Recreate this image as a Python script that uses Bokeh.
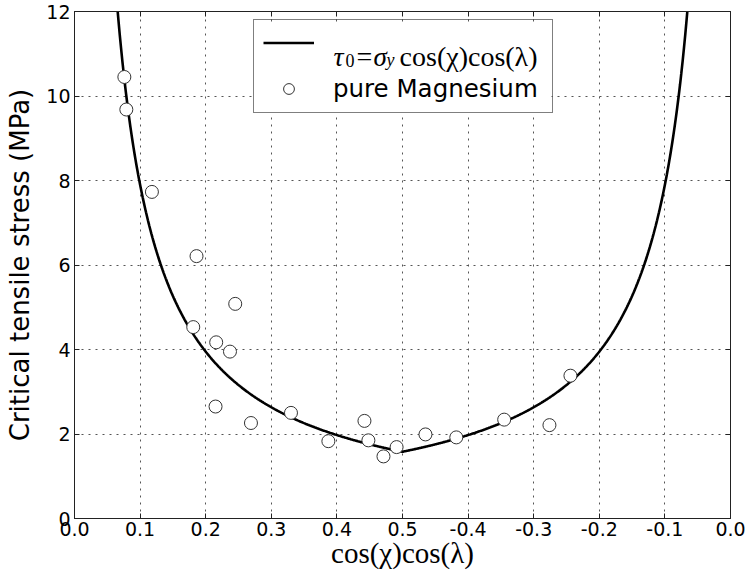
import numpy as np
from bokeh.plotting import figure
from bokeh.models import (Range1d, FixedTicker, LinearAxis, Legend, LegendItem, Label)
from bokeh.embed import file_html
from bokeh.resources import INLINE

# ---------------- data ----------------
schmid_pos = [0.076, 0.079, 0.118, 0.186, 0.245, 0.181, 0.216, 0.237, 0.215, 0.269, 0.330,
              0.387, 0.442, 0.448, 0.471, 0.491, 0.535, 0.582, 0.655, 0.724, 0.756]
stress_mpa = [10.45, 9.68, 7.73, 6.21, 5.08, 4.53, 4.17, 3.95, 2.65, 2.26, 2.50,
              1.83, 2.31, 1.85, 1.47, 1.69, 1.99, 1.92, 2.34, 2.21, 3.38]
x_ticks = [0.0, 0.1, 0.2, 0.3, 0.4, 0.5, 0.6, 0.7, 0.8, 0.9, 1.0]
x_tick_labels = ["0.0", "0.1", "0.2", "0.3", "0.4", "0.5", "-0.4", "-0.3", "-0.2", "-0.1", "0.0"]
y_ticks = [0, 2, 4, 6, 8, 10, 12]
y_tick_labels = ["0", "2", "4", "6", "8", "10", "12"]
TAU_C = 0.79  # critical resolved shear stress (MPa) of the model curve

# model curve: tau = TAU_C / |cos(chi)cos(lambda)|
s = np.linspace(0.06, 0.94, 881)
m = np.where(s <= 0.5, s, 1.0 - s)
tau = TAU_C / m

FONT = "DejaVu Sans"
SERIF = "Liberation Serif"

W, H = 748, 575
BL, BR, BT, BB = 74, 18, 11, 57

p = figure(width=W, height=H, x_range=Range1d(0, 1), y_range=Range1d(0, 12),
           output_backend="svg", toolbar_location=None,
           min_border_left=BL, min_border_right=BR, min_border_top=BT, min_border_bottom=BB)
p.outline_line_color = "#222222"
p.outline_line_width = 1
p.background_fill_color = "white"
p.border_fill_color = "white"

xt = FixedTicker(ticks=x_ticks, minor_ticks=[])
yt = FixedTicker(ticks=y_ticks, minor_ticks=[])

for ax in (p.xaxis[0], p.yaxis[0]):
    ax.major_tick_in = 5
    ax.major_tick_out = 0
    ax.minor_tick_in = 0
    ax.minor_tick_out = 0
    ax.axis_line_color = "#222222"
    ax.major_tick_line_color = "#222222"
    ax.major_label_text_font = FONT
    ax.major_label_text_font_size = "19px"
    ax.major_label_text_color = "black"
    ax.axis_label_text_font_style = "normal"
    ax.axis_label_text_color = "black"

p.xaxis[0].ticker = xt
p.xaxis[0].major_label_overrides = {t: l for t, l in zip(x_ticks, x_tick_labels)}
p.xaxis[0].major_label_standoff = 3
p.xaxis[0].axis_label = "cos(χ)cos(λ)"
p.xaxis[0].axis_label_text_font = SERIF
p.xaxis[0].axis_label_text_font_size = "29px"
p.xaxis[0].axis_label_standoff = -2

p.yaxis[0].ticker = yt
p.yaxis[0].major_label_overrides = {t: l for t, l in zip(y_ticks, y_tick_labels)}
p.yaxis[0].major_label_standoff = 4
p.yaxis[0].axis_label = "Critical tensile stress (MPa)"
p.yaxis[0].axis_label_text_font = FONT
p.yaxis[0].axis_label_text_font_size = "26px"
p.yaxis[0].axis_label_standoff = 8

# inner ticks on top and right (no labels)
for loc, tk in (("above", xt), ("right", yt)):
    ax = LinearAxis(ticker=tk, major_tick_in=5, major_tick_out=0, minor_tick_in=0, minor_tick_out=0,
                    major_label_text_font_size="1px", major_label_text_color=None,
                    major_label_standoff=0,
                    axis_line_color="#222222", major_tick_line_color="#222222")
    p.add_layout(ax, loc)

p.xgrid.ticker = xt
p.ygrid.ticker = yt
for g in (p.xgrid[0], p.ygrid[0]):
    g.grid_line_color = "#555555"
    g.grid_line_dash = "2 5"
    g.grid_line_width = 1

frame_w = W - BL - BR
frame_h = H - BT - BB


def to_data(px, py):
    """page pixel -> data coordinates (for legend decoration only)"""
    return (px - BL) / frame_w * 1.0, (H - BB - py) / frame_h * 12.0


# white legend background (hides the grid under the legend box)
lx0, ly0 = to_data(253, 113)
lx1, ly1 = to_data(551, 23)
p.quad(left=[lx0], right=[lx1], bottom=[ly0], top=[ly1], fill_color="white", line_color=None)

curve = p.line(s, tau, line_color="black", line_width=2.6)
pts = p.scatter(schmid_pos, stress_mpa, marker="circle", size=13,
                fill_color="white", line_color="#333333", line_width=1)

legend = Legend(items=[LegendItem(label=" ", renderers=[curve]),
                       LegendItem(label="pure Magnesium", renderers=[pts])],
                location=(179, 405), padding=9, spacing=18, margin=0,
                glyph_width=51, glyph_height=27, label_height=27, label_width=210,
                label_standoff=19, border_line_color="black", border_line_width=1,
                background_fill_alpha=0,
                label_text_font=FONT, label_text_font_size="24.5px", label_text_color="black")
p.add_layout(legend)

# formula text for the model-curve legend entry (positions given in page pixels)
pieces = [
    ("τ", 333, 56, "28px", "italic", "left"),
    ("0", 345, 60, "18px", "normal", "left"),
    ("=", 364, 56, "28px", "normal", "center"),
    ("σ", 373, 56, "27px", "italic", "left"),
    ("y", 386, 59.5, "18px", "italic", "left"),
    ("cos(χ)cos(λ)", 537, 56, "28px", "normal", "right"),
]
for txt, px, py, fs, st, al in pieces:
    tx, ty = to_data(px, py)
    p.add_layout(Label(x=tx, y=ty, text=txt,
                       text_font=SERIF, text_font_size=fs, text_font_style=st,
                       text_baseline="alphabetic", text_align=al, text_color="black"))

open("out.html", "w").write(file_html(p, INLINE))
